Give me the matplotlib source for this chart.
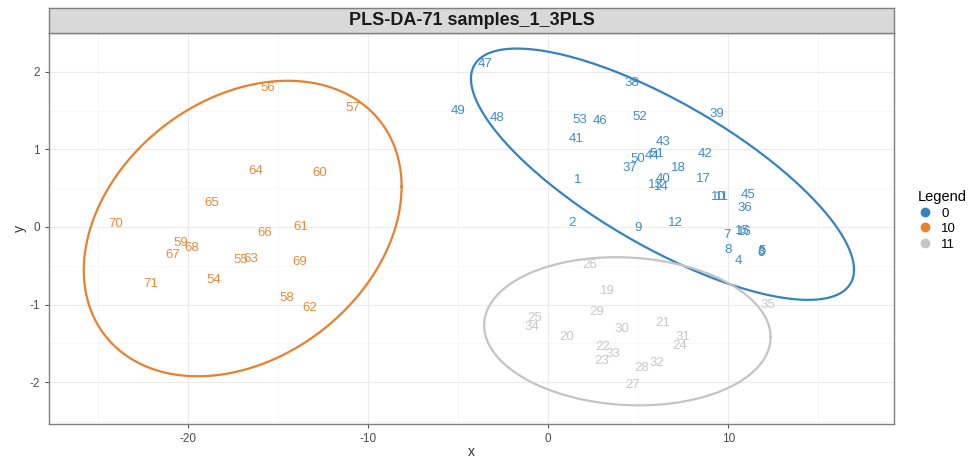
import numpy as np
import matplotlib
matplotlib.use("Agg")
import matplotlib.pyplot as plt
from matplotlib.lines import Line2D

plt.rcParams['font.family'] = ['Liberation Sans', 'DejaVu Sans']
plt.rcParams['axes.unicode_minus'] = False

# sample scores (comp 1 / comp 2)
ids_0 = [1, 2, 3, 4, 5, 6, 7, 8, 9, 10, 11, 12, 13, 14, 15, 16, 17, 18,
         36, 37, 38, 39, 40, 41, 42, 43, 44, 45, 46, 47, 48, 49, 50, 51, 52, 53]
x_0 = [1.66, 1.33, 11.81, 10.54, 11.87, 11.81, 9.93, 9.98, 4.99, 9.48, 9.65, 7.04,
       5.93, 6.27, 10.76, 10.87, 8.60, 7.21,
       10.93, 4.55, 4.66, 9.37, 6.38, 1.55, 8.71, 6.38, 5.77, 11.09, 2.88, -3.49,
       -2.83, -4.99, 4.99, 6.05, 5.10, 1.77]
y_0 = [0.60, 0.05, -0.32, -0.44, -0.31, -0.34, -0.10, -0.30, -0.01, 0.39, 0.38, 0.05,
       0.54, 0.52, -0.05, -0.06, 0.62, 0.76,
       0.25, 0.76, 1.86, 1.45, 0.62, 1.14, 0.94, 1.09, 0.91, 0.41, 1.36, 2.10,
       1.41, 1.49, 0.87, 0.94, 1.42, 1.38]

ids_10 = [54, 55, 56, 57, 58, 59, 60, 61, 62, 63, 64, 65, 66, 67, 68, 69, 70, 71]
x_10 = [-18.58, -17.08, -15.53, -10.82, -14.48, -20.41, -12.70, -13.75, -13.20,
        -16.53, -16.20, -18.64, -15.75, -20.85, -19.75, -13.81, -24.02, -22.07]
y_10 = [-0.69, -0.43, 1.79, 1.54, -0.91, -0.21, 0.69, 0.00, -1.05,
        -0.41, 0.72, 0.31, -0.08, -0.36, -0.27, -0.45, 0.04, -0.74]

ids_11 = [19, 20, 21, 22, 23, 24, 25, 26, 27, 28, 29, 30, 31, 32, 33, 34, 35]
x_11 = [3.27, 1.05, 6.38, 3.05, 3.00, 7.32, -0.72, 2.33, 4.71, 5.21, 2.72, 4.10,
        7.49, 6.05, 3.61, -0.89, 12.20]
y_11 = [-0.82, -1.42, -1.24, -1.55, -1.73, -1.53, -1.18, -0.49, -2.04, -1.82, -1.10,
        -1.32, -1.42, -1.75, -1.64, -1.29, -1.01]

# confidence ellipses: centre, half-width, half-height, correlation
ell_0 = [6.35, 0.68, 10.63, 1.62, -0.76]
ell_10 = [-16.95, -0.02, 8.82, 1.905, 0.283]
ell_11 = [4.4, -1.345, 7.95, 0.955, -0.08]

groups = ["0", "10", "11"]
colors = {"0": "#3483C0", "10": "#E8802C", "11": "#C4C4C4"}
text_colors = {"0": "#3E8CC8", "10": "#EA8A3C", "11": "#C8C8C8"}

fig = plt.figure(figsize=(9.76, 4.59), dpi=100)
ax = fig.add_axes([0.0502, 0.0763, 0.8658, 0.8517])

data = {
    "0": (ids_0, x_0, y_0, ell_0),
    "10": (ids_10, x_10, y_10, ell_10),
    "11": (ids_11, x_11, y_11, ell_11),
}

t = np.linspace(0, 2 * np.pi, 300)
for g in groups:
    ids, xs, ys, ell = data[g]
    cx, cy, sx, sy, rho = ell
    ex = cx + sx * np.cos(t)
    ey = cy + sy * (rho * np.cos(t) + np.sqrt(1 - rho ** 2) * np.sin(t))
    ax.plot(ex, ey, color=colors[g], lw=1.6, zorder=2)
    for i, xv, yv in zip(ids, xs, ys):
        ax.text(xv, yv, str(i), color=text_colors[g], fontsize=9.5,
                ha="center", va="center", zorder=3)

ax.set_xlim(-27.7, 19.2)
ax.set_ylim(-2.54, 2.5)
ax.set_xticks([-20, -10, 0, 10])
ax.set_yticks([-2, -1, 0, 1, 2])
ax.set_xticks([-25, -15, -5, 5, 15], minor=True)
ax.set_yticks([-2.5, -1.5, -0.5, 0.5, 1.5], minor=True)
ax.grid(True, which="major", color="#EBEBEB", lw=0.8)
ax.grid(True, which="minor", color="#F4F4F4", lw=0.5)
ax.set_axisbelow(True)
ax.tick_params(which="major", length=3, color="#555555", labelcolor="#4D4D4D",
               labelsize=8.5)
ax.tick_params(which="minor", length=0)
for sp in ax.spines.values():
    sp.set_color("#7F7F7F")
    sp.set_linewidth(1.0)
ax.set_xlabel("x", fontsize=10, color="#333333", labelpad=0)
ax.set_ylabel("y", fontsize=10, color="#333333", labelpad=2)

# facet strip with title
strip = fig.add_axes([0.0502, 0.928, 0.8658, 0.055])
strip.set_facecolor("#D9D9D9")
strip.set_xticks([])
strip.set_yticks([])
for sp in strip.spines.values():
    sp.set_color("#7F7F7F")
    sp.set_linewidth(1.0)
strip.text(0.5, 0.5, "PLS-DA-71 samples_1_3PLS", ha="center", va="center",
           fontsize=13, fontweight="bold", color="#1A1A1A",
           transform=strip.transAxes)

handles = [Line2D([0], [0], marker="o", ls="", color=colors[g], markersize=6)
           for g in groups]
leg = fig.legend(handles, groups, title="Legend", loc="center left",
                 bbox_to_anchor=(0.94, 0.52), frameon=False, fontsize=9.5,
                 title_fontsize=10.5, handletextpad=0.6, labelspacing=0.25,
                 handlelength=1.2, borderaxespad=0, borderpad=0)
leg._legend_box.align = "left"

fig.savefig("out.png", dpi=100)
